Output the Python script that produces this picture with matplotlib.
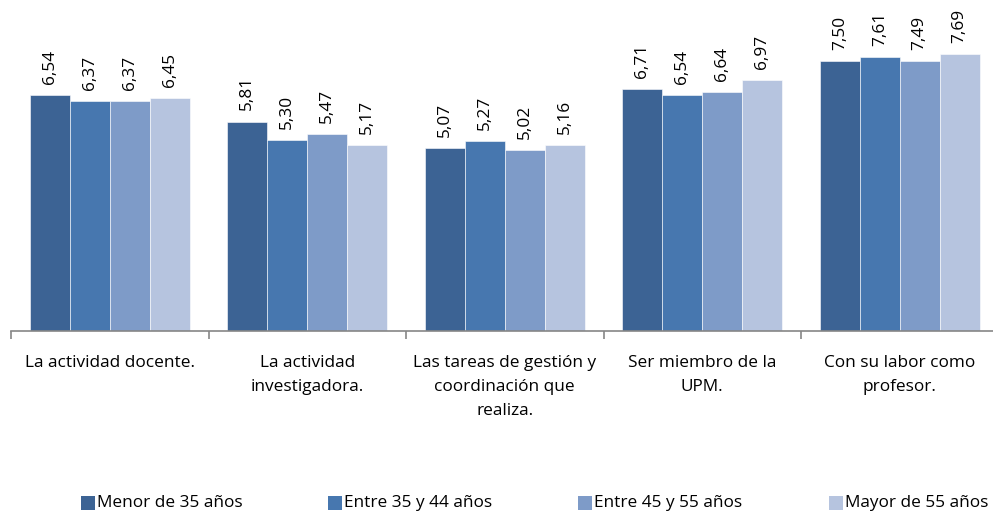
import numpy as np
import matplotlib
matplotlib.use('Agg')
import matplotlib.pyplot as plt
from matplotlib.patches import Rectangle
from matplotlib.ticker import FixedLocator

plt.rcParams['font.family'] = ['Open Sans', 'DejaVu Sans']

# Datos: satisfacción media por grupo de edad
categorias = [
    'La actividad docente.',
    'La actividad\ninvestigadora.',
    'Las tareas de gestión y\ncoordinación que\nrealiza.',
    'Ser miembro de la\nUPM.',
    'Con su labor como\nprofesor.',
]
grupos_edad = ['Menor de 35 años', 'Entre 35 y 44 años', 'Entre 45 y 55 años', 'Mayor de 55 años']
menor_35 = [6.54, 5.81, 5.07, 6.71, 7.50]
entre_35_44 = [6.37, 5.30, 5.27, 6.54, 7.61]
entre_45_55 = [6.37, 5.47, 5.02, 6.64, 7.49]
mayor_55 = [6.45, 5.17, 5.16, 6.97, 7.69]

series = [menor_35, entre_35_44, entre_45_55, mayor_55]
colores = ['#3C6394', '#4777AF', '#7E9BC8', '#B6C4DF']

W, H = 993, 517
fs = 12.4
fig = plt.figure(figsize=(W / 100, H / 100), dpi=100)

# eje: x de 11 a 998.5 px, base en y=331 px
x0, x1 = 11, 998.5
y_base = 331
px_por_unidad = 36.05
ax = fig.add_axes([x0 / W, (H - y_base) / H, (x1 - x0) / W, y_base / H])
ax.set_xlim(-0.5, 4.5)
ax.set_ylim(0, y_base / px_por_unidad)

x = np.arange(len(categorias))
ancho = 0.2025
for i, (vals, col) in enumerate(zip(series, colores)):
    pos = x + (i - 1.5) * ancho
    ax.bar(pos, vals, width=ancho, color=col, edgecolor='white', linewidth=0.4)
    for px, v in zip(pos, vals):
        ax.annotate(f'{v:.2f}'.replace('.', ','), (px, v), xytext=(0, 8),
                    textcoords='offset points', rotation=90,
                    ha='center', va='bottom', fontsize=fs)

for s in ['top', 'right', 'left']:
    ax.spines[s].set_visible(False)
ax.spines['bottom'].set_color('#868686')
ax.spines['bottom'].set_linewidth(1.2)
ax.set_yticks([])

ax.set_xticks(x)
ax.set_xticklabels(categorias, fontsize=fs, linespacing=1.68)
ax.tick_params(axis='x', which='major', length=0, pad=17)
ax.xaxis.set_minor_locator(FixedLocator(np.arange(-0.5, 5, 1)))
ax.tick_params(axis='x', which='minor', length=6, width=1.2, color='#868686', direction='out')

# leyenda manual
leg_x = [81, 328, 578, 829]
leg_y = 503
lado = 14
for lx, col, txt in zip(leg_x, colores, grupos_edad):
    fig.patches.append(Rectangle((lx / W, (H - leg_y - lado / 2) / H), lado / W, lado / H,
                                 transform=fig.transFigure, facecolor=col, edgecolor='none'))
    fig.text((lx + lado + 2) / W, (H - leg_y) / H, txt, fontsize=fs, va='center', ha='left')

fig.savefig('out.png', dpi=100)
